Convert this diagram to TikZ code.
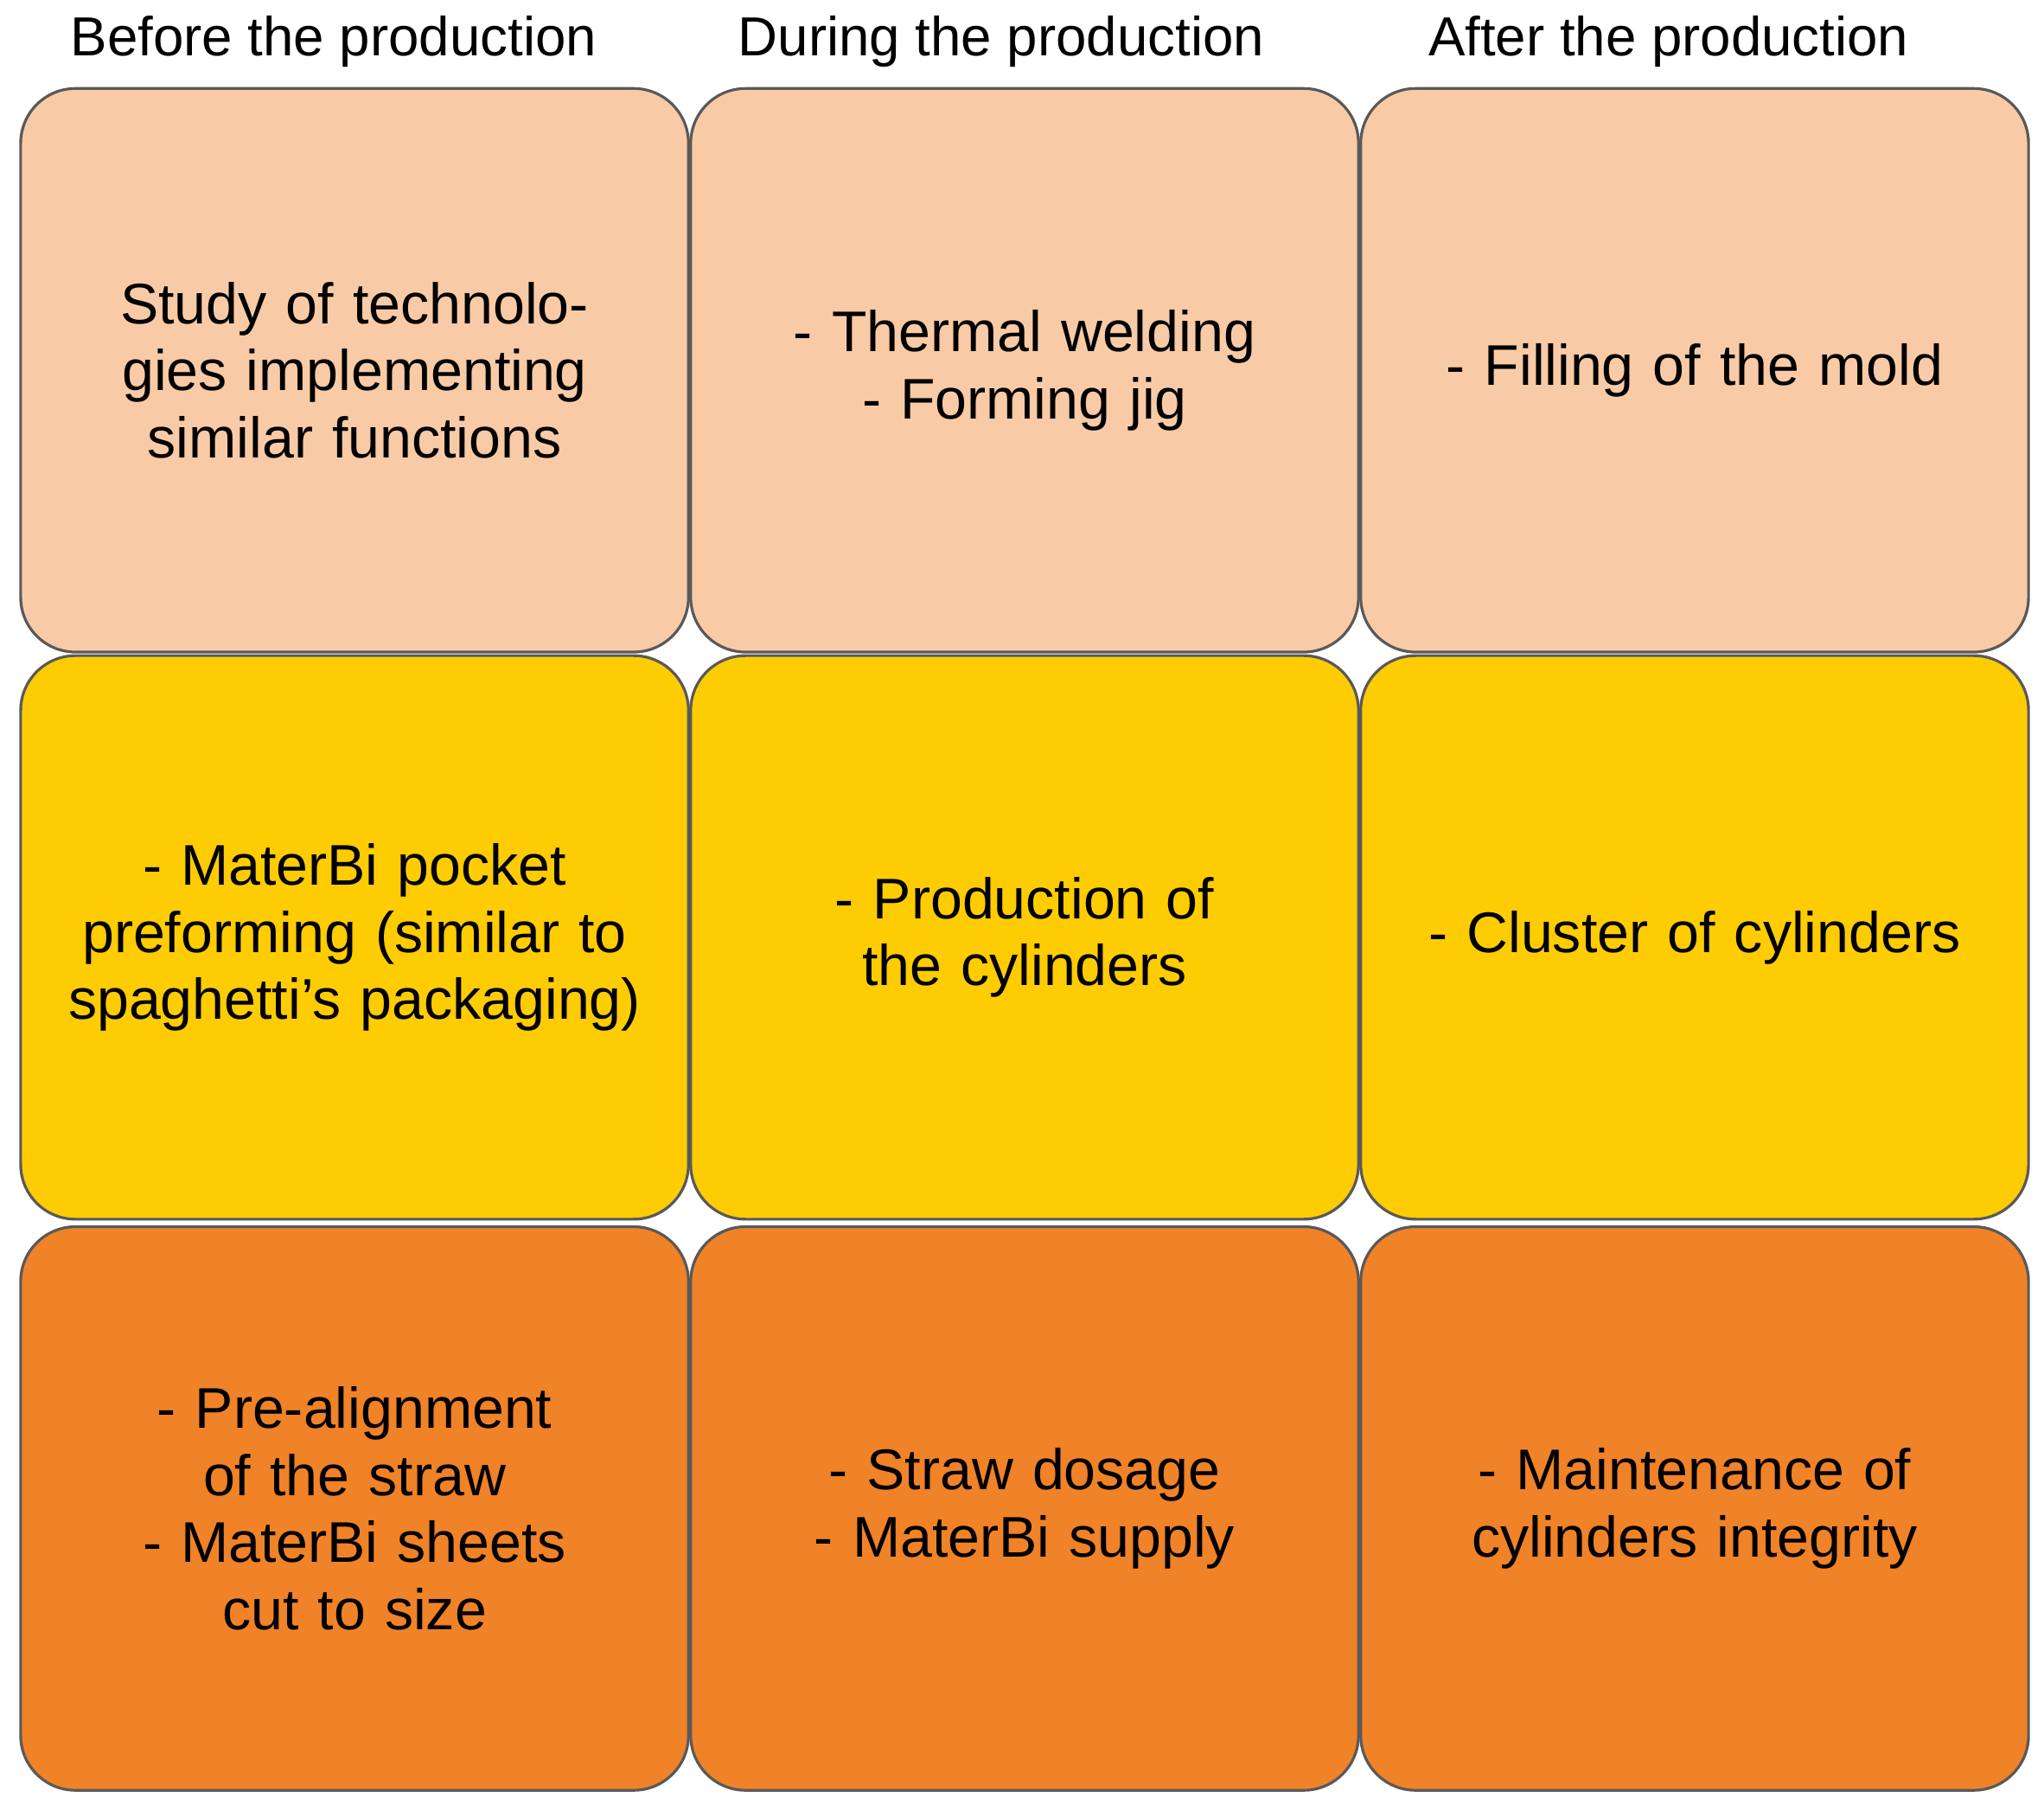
\documentclass[tikz,border=0pt]{standalone}
\usepackage{fontspec}
\setmainfont{Liberation Sans}
\begin{document}
\begin{tikzpicture}[x=0.01cm,y=-0.01cm,
  cell/.style={draw=black!65,line width=0.6pt,rounded corners=0.42cm,minimum width=5.12cm,minimum height=4.32cm,align=center,text width=4.5cm,font=\fontsize{12.5}{14.6}\selectfont,inner sep=0pt},
  r1/.style={cell,fill=c1},r2/.style={cell,fill=c2},r3/.style={cell,fill=c3},
  head/.style={font=\fontsize{12}{14}\selectfont}]
\definecolor{c1}{HTML}{F8CBA6}
\definecolor{c2}{HTML}{FECC02}
\definecolor{c3}{HTML}{F08228}
\useasboundingbox (0,0) rectangle (1568,1388);
\node[head] (h1) at (256,32) {Before the production};
\node[head] (h2) at (768,32) {During the production};
\node[head] (h3) at (1280,32) {After the production};
\node[r1] (a1) at (272,284) {Study of technologies implementing similar functions};
\node[r1] (a2) at (786,284) {- Thermal welding\\- Forming jig};
\node[r1] (a3) at (1300,284) {- Filling of the mold};
\node[r2] (b1) at (272,719) {- MaterBi pocket preforming (similar to spaghetti's packaging)};
\node[r2] (b2) at (786,719) {- Production of the cylinders};
\node[r2] (b3) at (1300,719) {- Cluster of cylinders};
\node[r3] (d1) at (272,1157) {- Pre-alignment of the straw\\- MaterBi sheets cut to size};
\node[r3] (d2) at (786,1157) {- Straw dosage\\- MaterBi supply};
\node[r3] (d3) at (1300,1157) {- Maintenance of cylinders integrity};
\end{tikzpicture}
\end{document}
